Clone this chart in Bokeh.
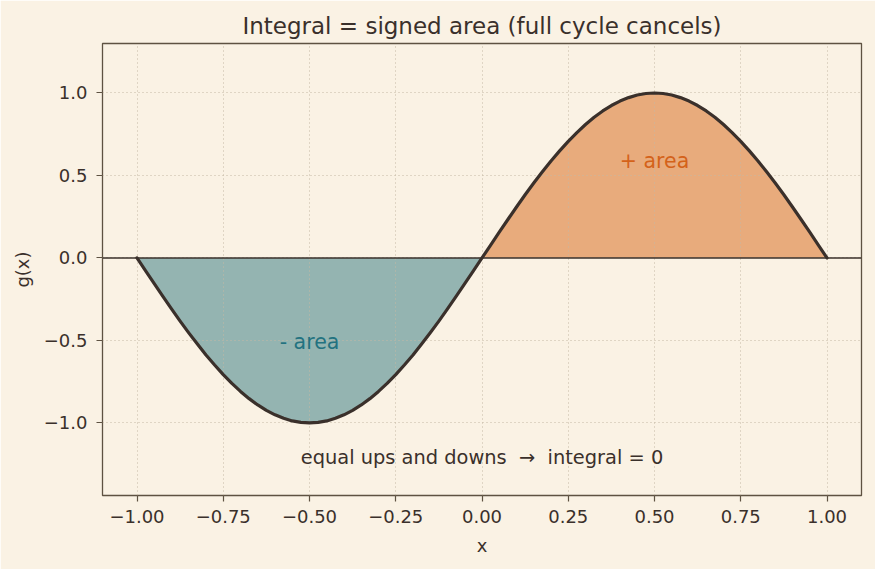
from bokeh.plotting import figure
from bokeh.models import Span, Label, CustomJSTickFormatter, FixedTicker, Range1d
from bokeh.embed import file_html
from bokeh.resources import INLINE

# samples of g(x) on [-1, 1], step 0.025
xs = [-1.000, -0.975, -0.950, -0.925, -0.900, -0.875, -0.850, -0.825, -0.800, -0.775,
      -0.750, -0.725, -0.700, -0.675, -0.650, -0.625, -0.600, -0.575, -0.550, -0.525,
      -0.500, -0.475, -0.450, -0.425, -0.400, -0.375, -0.350, -0.325, -0.300, -0.275,
      -0.250, -0.225, -0.200, -0.175, -0.150, -0.125, -0.100, -0.075, -0.050, -0.025,
      0.000,
      0.025, 0.050, 0.075, 0.100, 0.125, 0.150, 0.175, 0.200, 0.225, 0.250,
      0.275, 0.300, 0.325, 0.350, 0.375, 0.400, 0.425, 0.450, 0.475, 0.500,
      0.525, 0.550, 0.575, 0.600, 0.625, 0.650, 0.675, 0.700, 0.725, 0.750,
      0.775, 0.800, 0.825, 0.850, 0.875, 0.900, 0.925, 0.950, 0.975, 1.000]
gx = [0.000, -0.078, -0.156, -0.233, -0.309, -0.383, -0.454, -0.522, -0.588, -0.649,
      -0.707, -0.760, -0.809, -0.853, -0.891, -0.924, -0.951, -0.972, -0.988, -0.997,
      -1.000, -0.997, -0.988, -0.972, -0.951, -0.924, -0.891, -0.853, -0.809, -0.760,
      -0.707, -0.649, -0.588, -0.522, -0.454, -0.383, -0.309, -0.233, -0.156, -0.078,
      0.000,
      0.078, 0.156, 0.233, 0.309, 0.383, 0.454, 0.522, 0.588, 0.649, 0.707,
      0.760, 0.809, 0.853, 0.891, 0.924, 0.951, 0.972, 0.988, 0.997, 1.000,
      0.997, 0.988, 0.972, 0.951, 0.924, 0.891, 0.853, 0.809, 0.760, 0.707,
      0.649, 0.588, 0.522, 0.454, 0.383, 0.309, 0.233, 0.156, 0.078, 0.000]

x_ticks = [-1.0, -0.75, -0.5, -0.25, 0.0, 0.25, 0.5, 0.75, 1.0]
y_ticks = [-1.0, -0.5, 0.0, 0.5, 1.0]

BG = "#faf2e4"
INK = "#3a302b"
FRAME = "#5e5242"
FONT = "DejaVu Sans"

p = figure(width=875, height=569, output_backend="svg", toolbar_location=None,
           x_range=Range1d(-1.1, 1.1), y_range=Range1d(-1.44, 1.3),
           min_border_left=102, min_border_right=14, min_border_top=43, min_border_bottom=74,
           background_fill_color=BG, border_fill_color=BG,
           title="Integral = signed area (full cycle cancels)")

p.title.align = "center"
p.title.text_font = FONT
p.title.text_font_size = "23px"
p.title.text_font_style = "normal"
p.title.text_color = INK
p.title.standoff = 10

p.outline_line_color = FRAME
p.outline_line_width = 1.3

# split the samples at x = 0 into the negative and positive lobes
mid = xs.index(0.000)
p.varea(x=xs[:mid + 1], y1=0, y2=gx[:mid + 1], fill_color="#94b4b1", level="image")
p.varea(x=xs[mid:], y1=0, y2=gx[mid:], fill_color="#e8ab7c", level="image")

p.add_layout(Span(location=0, dimension="width", line_color=INK, line_width=1.5))
p.line(xs, gx, line_color=INK, line_width=3.2, line_join="round", line_cap="round")

p.add_layout(Label(x=0.5, y=0.59, text="+ area", text_align="center", text_baseline="middle",
                   text_font=FONT, text_font_size="20.5px", text_color="#d4621a"))
p.add_layout(Label(x=-0.5, y=-0.51, text="- area", text_align="center", text_baseline="middle",
                   text_font=FONT, text_font_size="20.5px", text_color="#237280"))
p.add_layout(Label(x=0.0, y=-1.21, text="equal ups and downs \u00a0\u2192\u00a0 integral = 0",
                   text_align="center", text_baseline="middle",
                   text_font=FONT, text_font_size="19.4px", text_color=INK))

for ax in (p.xaxis, p.yaxis):
    ax.axis_line_color = None
    ax.major_tick_line_color = FRAME
    ax.major_tick_line_width = 1.2
    ax.major_tick_out = 6
    ax.major_tick_in = 0
    ax.minor_tick_line_color = None
    ax.major_label_text_font = FONT
    ax.major_label_text_font_size = "18px"
    ax.major_label_text_color = INK
    ax.axis_label_text_font = FONT
    ax.axis_label_text_font_size = "18px"
    ax.axis_label_text_font_style = "normal"
    ax.axis_label_text_color = INK

p.xaxis.major_label_standoff = 8
p.yaxis.major_label_standoff = 9
p.xaxis.axis_label_standoff = 9
p.yaxis.axis_label_standoff = 8

p.xaxis.ticker = FixedTicker(ticks=x_ticks)
p.yaxis.ticker = FixedTicker(ticks=y_ticks)
p.xaxis.formatter = CustomJSTickFormatter(code="return tick.toFixed(2).replace('-', '\u2212');")
p.yaxis.formatter = CustomJSTickFormatter(code="return tick.toFixed(1).replace('-', '\u2212');")
p.xaxis.axis_label = "x"
p.yaxis.axis_label = "g(x)"

for g in (p.xgrid, p.ygrid):
    g.grid_line_color = "#c4b8a4"
    g.grid_line_dash = "1 3"
    g.grid_line_width = 1.1

open("out.html", "w").write(file_html(p, INLINE))
